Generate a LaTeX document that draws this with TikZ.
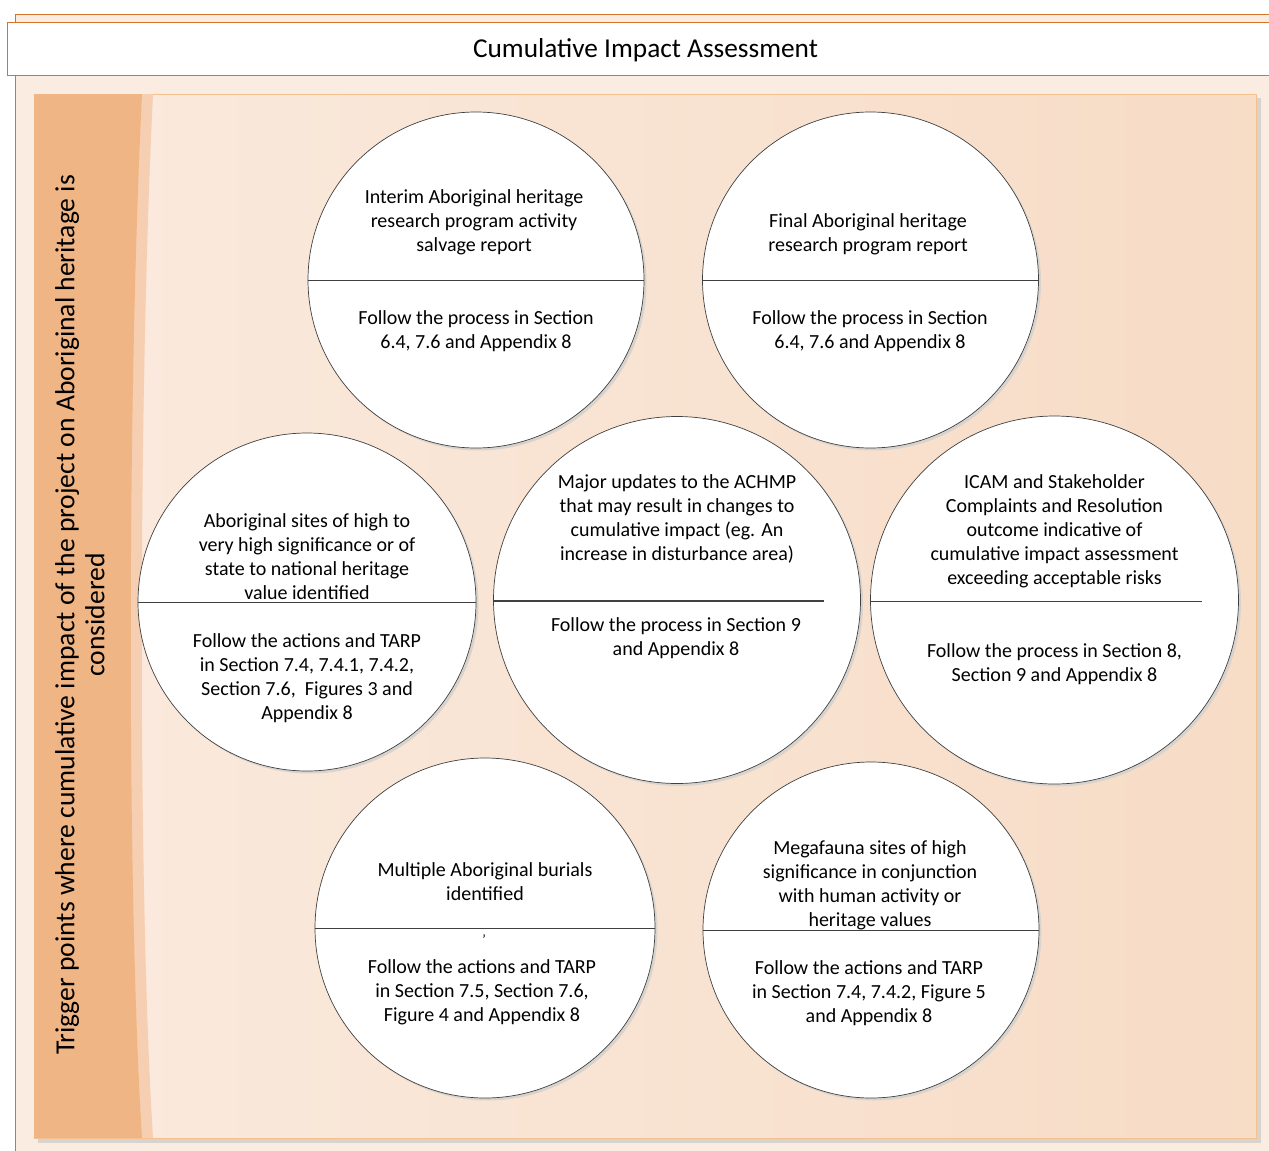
\documentclass[tikz,border=0pt]{standalone}
\usepackage{fontspec}
\setmainfont{Carlito}
\usetikzlibrary{shadows}
\definecolor{outerline}{RGB}{212,116,43}
\definecolor{outerfill}{RGB}{251,236,225}
\definecolor{panelleft}{RGB}{250,234,222}
\definecolor{panelright}{RGB}{247,220,198}
\definecolor{panelborder}{RGB}{245,192,143}
\definecolor{barorange}{RGB}{240,181,132}
\definecolor{barlight}{RGB}{246,206,177}
\definecolor{shadowgray}{RGB}{217,211,205}
\definecolor{circline}{RGB}{64,64,64}
\tikzset{
  outerbox/.style={draw=outerline,fill=outerfill,line width=1pt},
  titlebox/.style={draw=outerline,fill=white,line width=1pt},
  titletext/.style={font=\fontsize{27.3}{30}\selectfont,inner sep=0pt},
  sidetext/.style={font=\fontsize{27.6}{30}\selectfont,align=center,inner sep=0pt,rotate=90},
  circ/.style={circle,draw=circline,fill=white,line width=0.7pt,inner sep=0pt,
    drop shadow={shadow xshift=2.5pt,shadow yshift=-2.5pt,fill=shadowgray,opacity=1}},
  divider/.style={draw=circline,line width=0.9pt},
  txt/.style={font=\fontsize{20}{24}\selectfont,align=center,inner sep=0pt}
}
\begin{document}
\begin{tikzpicture}[x=1pt,y=-1pt]
\useasboundingbox (0,0) rectangle (1269,1151);
\fill[white] (0,0) rectangle (1269,1151);
% outer frame and title
\draw[outerbox] (15,14) rectangle (1285,1170);
\draw[titlebox] (7,22) rectangle (1285,75);
\node[titletext] (title) at (645.5,50) {Cumulative Impact Assessment};
% inner panel
\fill[shadowgray] (38,98) rectangle (1261,1143);
\shade[left color=panelleft,right color=panelright] (34,94) rectangle (1256,1138);
\draw[panelborder,line width=1pt] (34,94) rectangle (1256,1138);
\fill[barlight] (34,94) -- (153,94) .. controls (138,400) and (138,900) .. (153,1138) -- (34,1138) -- cycle;
\fill[barorange] (34,94) -- (142,94) .. controls (127,400) and (127,900) .. (142,1138) -- (34,1138) -- cycle;
\node[sidetext] (side) at (80,615) {Trigger points where cumulative impact of the project on Aboriginal heritage is\\considered};
% circles
\node[circ,minimum size=336pt] (c1) at (476,280) {};
\node[circ,minimum size=336pt] (c2) at (870.5,280) {};
\node[circ,minimum size=338pt] (c3) at (307,602) {};
\node[circ,minimum size=367pt] (c4) at (677,600) {};
\node[circ,minimum size=368pt] (c5) at (1054.5,600) {};
\node[circ,minimum size=340pt] (c6) at (485,928) {};
\node[circ,minimum size=336pt] (c7) at (871,930) {};
% dividers
\draw[divider] (c1.west) -- (c1.east);
\draw[divider] (c2.west) -- (c2.east);
\draw[divider] (c3.west) -- (c3.east);
\draw[divider,line width=1.8pt] (c4.west) ++(0,1) -- ++(331,0);
\draw[divider] (c5.west) ++(0,1) -- ++(332,0);
\draw[divider] (c6.west) -- (c6.east);
\draw[divider] (c7.west) -- (c7.east);
% texts
\node[txt] (t1a) at (474,222) {Interim Aboriginal heritage\\research program activity\\salvage report};
\node[txt] (t1b) at (476,331.5) {Follow the process in Section\\6.4, 7.6 and Appendix 8};
\node[txt] (t2a) at (868,234.5) {Final Aboriginal heritage\\research program report};
\node[txt] (t2b) at (870,331.5) {Follow the process in Section\\6.4, 7.6 and Appendix 8};
\node[txt] (t3a) at (307,557) {Aboriginal sites of high to\\very high significance or of\\state to national heritage\\value identified};
\node[txt] (t3b) at (307,678) {Follow the actions and TARP\\in Section 7.4, 7.4.1, 7.4.2,\\Section 7.6,~ Figures 3 and\\Appendix 8};
\node[txt] (t4a) at (677,519) {Major updates to the ACHMP\\that may result in changes to\\cumulative impact (eg. An\\increase in disturbance area)};
\node[txt] (t4b) at (676,638.5) {Follow the process in Section 9\\and Appendix 8};
\node[txt] (t5a) at (1054.5,531) {ICAM and Stakeholder\\Complaints and Resolution\\outcome indicative of\\cumulative impact assessment\\exceeding acceptable risks};
\node[txt] (t5b) at (1054.5,664.5) {Follow the process in Section 8,\\Section 9 and Appendix 8};
\node[txt] (t6a) at (485,881.5) {Multiple Aboriginal burials\\identified};
\node[txt,font=\fontsize{14}{16}\selectfont] (t6m) at (484,940) {’};
\node[txt] (t6b) at (482,992) {Follow the actions and TARP\\in Section 7.5, Section 7.6,\\Figure 4 and Appendix 8};
\node[txt] (t7a) at (870,885) {Megafauna sites of high\\significance in conjunction\\with human activity or\\heritage values};
\node[txt] (t7b) at (869,993.5) {Follow the actions and TARP\\in Section 7.4, 7.4.2, Figure 5\\and Appendix 8};
\end{tikzpicture}
\end{document}
